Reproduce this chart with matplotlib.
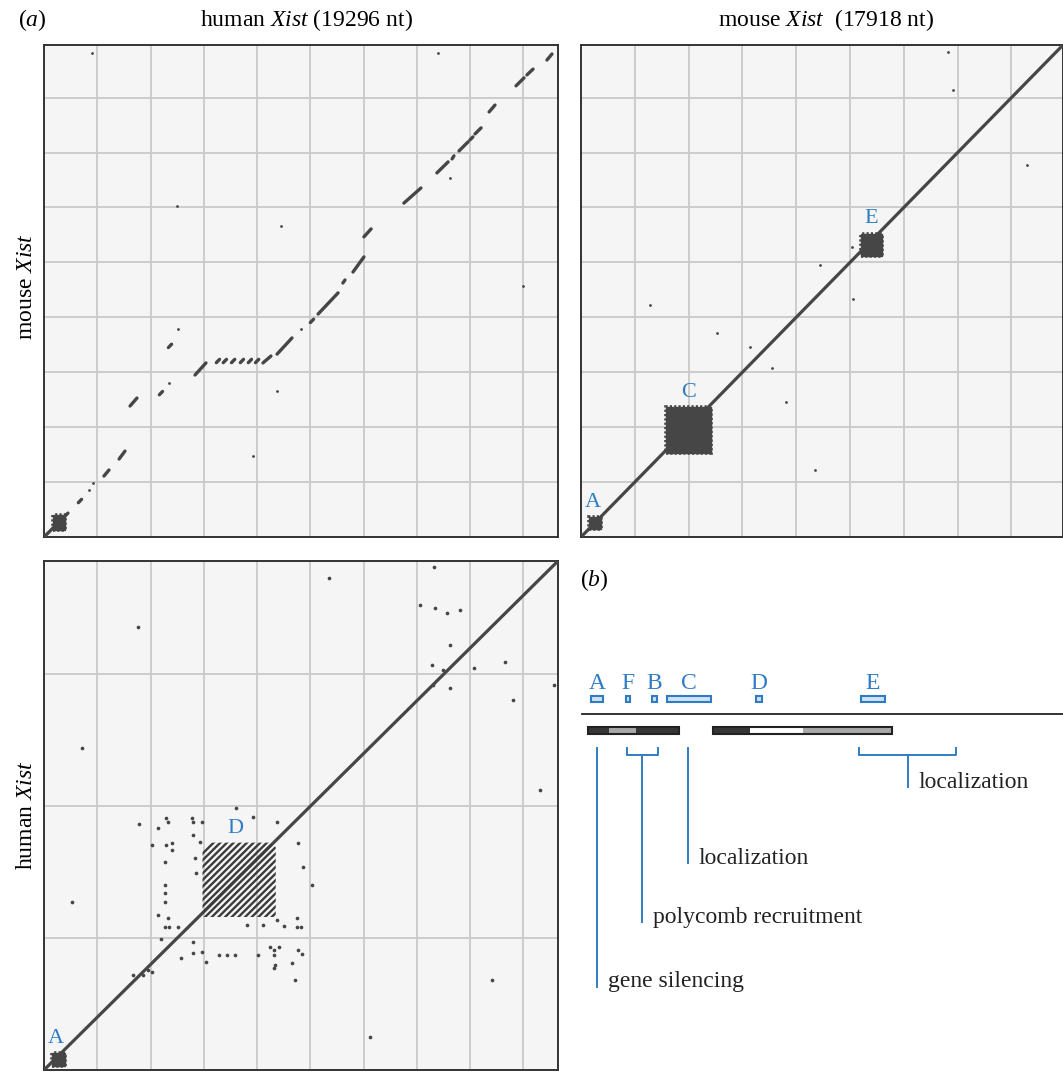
import numpy as np
import matplotlib
matplotlib.use('Agg')
import matplotlib.pyplot as plt
from matplotlib.patches import Rectangle, Polygon
from matplotlib.collections import LineCollection

plt.rcParams['font.family'] = ['Liberation Serif', 'DejaVu Serif']
plt.rcParams['mathtext.fontset'] = 'custom'
plt.rcParams['mathtext.rm'] = 'Liberation Serif'
plt.rcParams['mathtext.it'] = 'Liberation Serif:italic'

# sequence lengths (kb)
human_len = 19.296
mouse_len = 17.918

# --- (a) top left: human (x) vs mouse (y), kb ---
hm_segments = [
    (0.00, 0.00, 0.90, 0.87), (2.25, 2.22, 2.44, 2.44), (2.82, 2.84, 3.04, 3.13),
    (3.23, 4.77, 3.49, 5.06), (5.67, 5.90, 6.08, 6.34), (8.22, 6.34, 8.52, 6.59),
    (8.75, 6.66, 9.31, 7.25), (10.29, 8.12, 11.04, 8.89), (11.22, 9.25, 11.30, 9.36),
    (11.60, 9.65, 12.01, 10.20), (12.01, 10.93, 12.28, 11.22), (13.51, 12.16, 14.15, 12.71),
    (14.75, 13.26, 15.17, 13.66), (15.32, 13.77, 15.39, 13.88), (15.58, 14.06, 15.92, 14.39),
    (15.99, 14.46, 16.10, 14.57), (16.18, 14.68, 16.41, 14.90), (16.71, 15.48, 16.93, 15.73),
    (17.72, 16.43, 18.02, 16.72), (18.13, 16.83, 18.36, 17.04), (18.88, 17.37, 19.07, 17.59),
]
hm_marks = [(1.35, 1.31), (4.39, 5.24), (4.73, 6.96), (6.53, 6.41), (6.79, 6.41),
            (7.10, 6.41), (7.43, 6.41), (7.73, 6.41), (8.00, 6.41), (10.06, 7.87)]
hm_specks = [(1.69, 1.71), (1.84, 1.97), (4.69, 5.61), (5.03, 7.58), (8.75, 5.32),
             (7.85, 2.95), (17.98, 9.14), (14.79, 17.63), (1.80, 17.63), (4.99, 12.06),
             (8.90, 11.33), (9.65, 7.58), (15.24, 13.07)]
hm_block_A = (0.35, 0.79, 0.25, 0.80)

# --- (a) top right: mouse vs mouse ---
mm_blocks = {'A': (0.30, 0.75, 0.28, 0.72), 'C': (3.15, 4.85, 3.05, 4.72),
             'E': (10.40, 11.20, 10.25, 11.05)}
mm_specks = [(13.64, 17.66), (13.83, 16.28), (16.58, 13.55), (8.88, 9.91), (10.11, 8.67),
             (2.56, 8.45), (5.06, 7.43), (6.28, 6.92), (7.10, 6.15), (7.62, 4.92),
             (8.70, 2.44), (10.07, 10.56)]

# --- (a) bottom left: human vs human ---
hh_block_A = (0.30, 0.80, 0.15, 0.65)
hh_D_outline = [(5.95, 5.80), (8.70, 5.80), (8.70, 8.45), (8.45, 8.62), (6.25, 8.62), (5.95, 8.30)]
hh_D_offsets = [-2.75, -2.50, -2.25, -2.00, -1.75, -1.50, -1.25, -1.00, -0.75, -0.50, -0.25,
                0.00, 0.25, 0.50, 0.75, 1.00, 1.25, 1.50, 1.75, 2.00, 2.25, 2.50, 2.75]
hh_specks = [
    (3.57, 9.33), (4.28, 9.17), (4.58, 9.55), (4.65, 9.40), (5.56, 9.55), (5.59, 9.40),
    (5.93, 9.40), (7.21, 9.93), (7.85, 9.59), (8.75, 9.40), (4.05, 8.53), (4.58, 8.53),
    (4.81, 8.61), (4.81, 8.34), (5.59, 8.91), (5.86, 8.64), (5.67, 8.04), (5.71, 7.47),
    (4.54, 7.89), (4.54, 7.01), (4.54, 6.71), (4.54, 6.37), (4.28, 5.88), (4.65, 5.76),
    (4.54, 5.42), (4.69, 5.42), (5.03, 5.42), (4.39, 4.97), (5.59, 4.85), (5.59, 4.44),
    (5.93, 4.47), (6.08, 4.09), (5.14, 4.25), (6.57, 4.36), (6.87, 4.36), (7.17, 4.36),
    (7.62, 5.50), (8.22, 5.50), (8.75, 5.69), (9.01, 5.46), (9.50, 5.76), (9.50, 5.42),
    (9.65, 5.42), (9.54, 8.61), (9.72, 7.70), (10.06, 7.01), (8.03, 4.36), (8.48, 4.66),
    (8.63, 4.55), (8.63, 4.36), (8.82, 4.66), (8.67, 3.98), (8.63, 3.87), (9.31, 4.06),
    (9.54, 4.55), (9.69, 4.40), (9.42, 3.41), (4.05, 3.72), (3.72, 3.60), (3.34, 3.60),
    (3.90, 3.79), (10.70, 18.65), (14.64, 19.07), (3.53, 16.79), (1.43, 12.21),
    (14.12, 17.63), (14.68, 17.51), (15.13, 17.33), (15.62, 17.44), (15.24, 16.11),
    (14.57, 15.35), (14.98, 15.16), (16.14, 15.24), (17.31, 15.47), (17.61, 14.03),
    (14.60, 14.60), (15.24, 14.48), (18.62, 10.61), (19.15, 14.60), (1.05, 6.37),
    (16.82, 3.41), (12.24, 1.25),
]

# --- (b) schematic, human Xist in kb ---
exon_parts = [(0.00, 1.35, 'dark'), (1.35, 3.03, 'gray'), (3.03, 5.76, 'dark'),
              (7.96, 10.29, 'dark'), (10.29, 13.63, 'white'), (13.63, 19.32, 'gray')]
exon_outlines = [(0.00, 5.76), (7.96, 19.32)]
repeat_names = ['A', 'F', 'B', 'C', 'D', 'E']
repeat_start = [0.17, 2.39, 4.06, 5.02, 10.67, 17.32]
repeat_end = [0.97, 2.65, 4.38, 7.83, 11.05, 18.86]
function_names = ['gene silencing', 'polycomb recruitment', 'localization', 'localization']
function_span = [(0.55, 0.55), (2.46, 4.43), (6.33, 6.33), (17.23, 23.37)]

W, H = 1063, 1072
fig = plt.figure(figsize=(W / 100, H / 100), dpi=100)

dark = '#464646'
blue = '#2f7cc4'
bg = '#f5f5f5'


def panel(px0, py0, px1, py1, xlen, ylen, ygrid):
    ax = fig.add_axes([px0 / W, 1 - py1 / H, (px1 - px0) / W, (py1 - py0) / H])
    ax.set_xlim(0, xlen)
    ax.set_ylim(0, ylen)
    ax.set_facecolor(bg)
    ax.set_xticks(np.arange(2, xlen, 2))
    ax.set_yticks(np.arange(ygrid, ylen, ygrid))
    ax.tick_params(length=0, labelbottom=False, labelleft=False)
    ax.grid(True, color='#c9c9c9', lw=1.3)
    ax.set_axisbelow(True)
    for s in ax.spines.values():
        s.set_color('#333333')
        s.set_linewidth(1.4)
    return ax


def draw_specks(ax, pts, size):
    pts = np.array(pts)
    ax.scatter(pts[:, 0], pts[:, 1], s=size, color=dark, lw=0, zorder=3)


def draw_block(ax, b):
    ax.add_patch(Rectangle((b[0], b[2]), b[1] - b[0], b[3] - b[2], facecolor=dark,
                           edgecolor=dark, lw=1.0, zorder=3))
    # ragged rim
    ax.add_patch(Rectangle((b[0], b[2]), b[1] - b[0], b[3] - b[2], facecolor='none',
                           edgecolor=dark, lw=2.6, ls=(0, (0.6, 0.6)), zorder=3))


# top-left
ax1 = panel(44, 45, 558, 537, human_len, mouse_len, 2)
segs = [[(s[0], s[1]), (s[2], s[3])] for s in hm_segments]
ax1.add_collection(LineCollection(segs, colors=dark, lw=2.4, capstyle='round', zorder=3))
marks = [[(x - 0.06, y - 0.06), (x + 0.06, y + 0.06)] for x, y in hm_marks]
ax1.add_collection(LineCollection(marks, colors=dark, lw=2.4, capstyle='round', zorder=3))
draw_specks(ax1, hm_specks, 4)
draw_block(ax1, hm_block_A)

# top-right
ax2 = panel(581, 45, 1063, 537, mouse_len, mouse_len, 2)
ax2.plot([0, mouse_len], [0, mouse_len], color=dark, lw=2.3, zorder=3)
for b in mm_blocks.values():
    draw_block(ax2, b)
draw_specks(ax2, mm_specks, 4)
for name, b in mm_blocks.items():
    ax2.text((b[0] + b[1]) / 2 - (0.1 if name == 'A' else 0), b[3] + 0.2, name,
             color=blue, fontsize=16, ha='center', va='bottom', zorder=4)

# bottom-left
ax3 = panel(44, 561, 558, 1070, human_len, human_len, 5)
ax3.plot([0, human_len], [0, human_len], color=dark, lw=2.3, zorder=3)
draw_block(ax3, hh_block_A)
clip = Polygon(hh_D_outline, closed=True, transform=ax3.transData, fill=False, lw=0)
ax3.add_patch(clip)
stripes = [[(5.5, 5.5 + d), (9.2, 9.2 + d)] for d in hh_D_offsets]
lc = LineCollection(stripes, colors='#3c3c3c', lw=1.7, zorder=3)
ax3.add_collection(lc)
lc.set_clip_path(clip)
draw_specks(ax3, hh_specks, 7)
ax3.text(7.2, 8.8, 'D', color=blue, fontsize=16, ha='center', va='bottom', zorder=4)
ax3.text(0.45, 0.85, 'A', color=blue, fontsize=16, ha='center', va='bottom', zorder=4)

# titles and labels
fig.text(18 / W, 1 - 20 / H, '($a$)', fontsize=17, va='center', ha='left')
fig.text(306 / W, 1 - 20 / H, r'human $Xist$ (19296 nt)', fontsize=17, va='center', ha='center')
fig.text(826 / W, 1 - 20 / H, r'mouse $Xist$  (17918 nt)', fontsize=17, va='center', ha='center')
fig.text(27 / W, 1 - 287 / H, r'mouse $Xist$', fontsize=17, va='center', ha='center', rotation=90)
fig.text(27 / W, 1 - 815 / H, r'human $Xist$', fontsize=17, va='center', ha='center', rotation=90)
fig.text(580 / W, 1 - 580 / H, '($b$)', fontsize=17, va='center', ha='left')

# (b) schematic: x in kb, y in pixel rows
axb = fig.add_axes([575 / W, 0, 488 / W, 512 / H])
axb.set_xlim((575 - 588) * 0.0635, (1063 - 588) * 0.0635)
axb.set_ylim(1072, 560)
axb.axis('off')

axb.plot([-0.38, 31], [714, 714], color='#222222', lw=1.3, clip_on=False)
fills = {'dark': '#363636', 'gray': '#a9a9a9', 'white': 'white'}
for x0, x1, kind in exon_parts:
    axb.add_patch(Rectangle((x0, 727), x1 - x0, 6.5, facecolor=fills[kind], edgecolor='none'))
for x0, x1 in exon_outlines:
    axb.add_patch(Rectangle((x0, 727), x1 - x0, 6.5, facecolor='none', edgecolor='#222222', lw=1.5))
for name, x0, x1 in zip(repeat_names, repeat_start, repeat_end):
    axb.add_patch(Rectangle((x0, 696), x1 - x0, 6, facecolor='#cfe2f3', edgecolor=blue, lw=1.5))
    axb.text((x0 + x1) / 2, 694, name, color=blue, fontsize=17, ha='center', va='bottom')

stem_ends = [987, 922, 863, 787]
for (x0, x1), yend, name in zip(function_span, stem_ends, function_names):
    xm = (x0 + x1) / 2
    if x1 > x0:
        axb.plot([x0, x0, x1, x1], [748, 755, 755, 748], color=blue, lw=1.4)
        axb.plot([xm, xm], [755, yend], color=blue, lw=1.4)
    else:
        axb.plot([xm, xm], [748, yend], color=blue, lw=1.4)
    axb.text(xm + 0.7, yend - 5, name, fontsize=17, ha='left', va='center', color='#222222')

fig.savefig('out.png', dpi=100)
